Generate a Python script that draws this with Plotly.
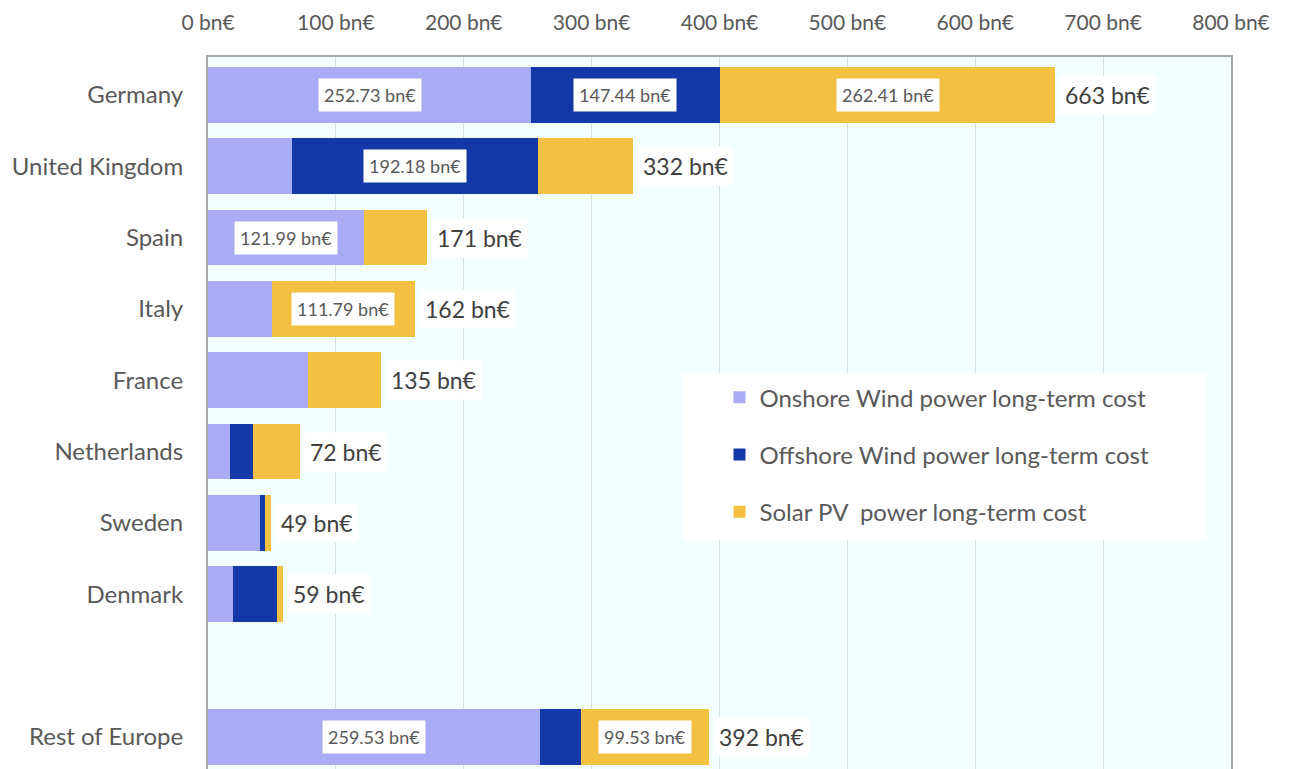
import plotly.graph_objects as go

countries = ["Germany", "United Kingdom", "Spain", "Italy", "France",
             "Netherlands", "Sweden", "Denmark", " ", "Rest of Europe"]
onshore = [252.73, 66, 121.99, 50, 78, 17, 40.5, 19.5, None, 259.53]
offshore = [147.44, 192.18, 0, 0, 0, 18, 4, 34.5, None, 32.5]
solar = [262.41, 74, 49, 111.79, 57, 37, 4.5, 5, None, 99.53]
totals_label = ["663 bn€", "332 bn€", "171 bn€", "162 bn€", "135 bn€",
                "72 bn€", "49 bn€", "59 bn€", None, "392 bn€"]
# which segments carry a value box
show_on = [True, False, True, False, False, False, False, False, False, True]
show_off = [True, True, False, False, False, False, False, False, False, False]
show_sol = [True, False, False, True, False, False, False, False, False, True]

tick_vals = [0, 100, 200, 300, 400, 500, 600, 700, 800]
tick_text = [f"{v} bn€" for v in tick_vals]

C_ON = "#aaabf5"
C_OFF = "#1538a9"
C_SOL = "#f3c042"
FONT = "Lato, 'Open Sans', sans-serif"
TXT = "#595959"

fig = go.Figure()
for name, vals, col, grp in [("Onshore Wind power long-term cost", onshore, C_ON, "a"),
                             ("Offshore Wind power long-term cost", offshore, C_OFF, "b"),
                             ("Solar PV  power long-term cost", solar, C_SOL, "c")]:
    fig.add_trace(go.Bar(y=countries, x=vals, orientation="h", name=name, legendgroup=grp,
                         marker=dict(color=col, line=dict(width=0)), width=0.78))

anns = []
for i, c in enumerate(countries):
    if onshore[i] is None:
        continue
    a, b, s = onshore[i], offshore[i], solar[i]
    segs = [(0, a, show_on[i]), (a, a + b, show_off[i]), (a + b, a + b + s, show_sol[i])]
    vals = [a, b, s]
    for (x0, x1, sh), v in zip(segs, vals):
        if sh:
            anns.append(dict(x=(x0 + x1) / 2, y=c, xref="x", yref="y", text=f"{v:.2f} bn€",
                             showarrow=False, bgcolor="white", borderpad=5,
                             font=dict(family=FONT, size=18, color=TXT)))
    anns.append(dict(x=a + b + s, y=c, xref="x", yref="y", text=totals_label[i],
                     xanchor="left", showarrow=False, bgcolor="white", borderpad=5, xshift=4,
                     font=dict(family=FONT, size=23, color="#404040")))

fig.update_layout(
    barmode="stack",
    width=1281, height=761,
    margin=dict(l=200, r=58, t=49, b=0),
    paper_bgcolor="white",
    plot_bgcolor="#f2feff",
    font=dict(family=FONT, color=TXT),
    annotations=anns,
    showlegend=True,
    shapes=[dict(type="rect", xref="paper", yref="paper", x0=0.464, x1=0.976,
                 y0=0.321, y1=0.556, fillcolor="white", line=dict(width=0), layer="above")],
    legend=dict(x=0.500, y=0.553, xanchor="left", yanchor="top",
                bgcolor="rgba(0,0,0,0)", borderwidth=0, traceorder="grouped",
                font=dict(family=FONT, size=24, color=TXT),
                tracegroupgap=23, itemwidth=30),
    xaxis=dict(side="top", range=[0, 800], tickvals=tick_vals, ticktext=tick_text,
               showgrid=True, gridcolor="#d8e0e0", gridwidth=1, zeroline=False,
               tickfont=dict(family=FONT, size=21, color=TXT), automargin=False,
               showline=True, linecolor="#a8a8a8", linewidth=2, mirror=True,
               ticks="", ticklabelstandoff=17),
    yaxis=dict(categoryorder="array", categoryarray=countries, range=[9.45, -0.53],
               tickfont=dict(family=FONT, size=24, color=TXT), ticks="", automargin=False,
               showline=True, linecolor="#a8a8a8", linewidth=2, mirror=True,
               showgrid=False, ticklabelstandoff=18),
)
fig.write_html("out.html")
